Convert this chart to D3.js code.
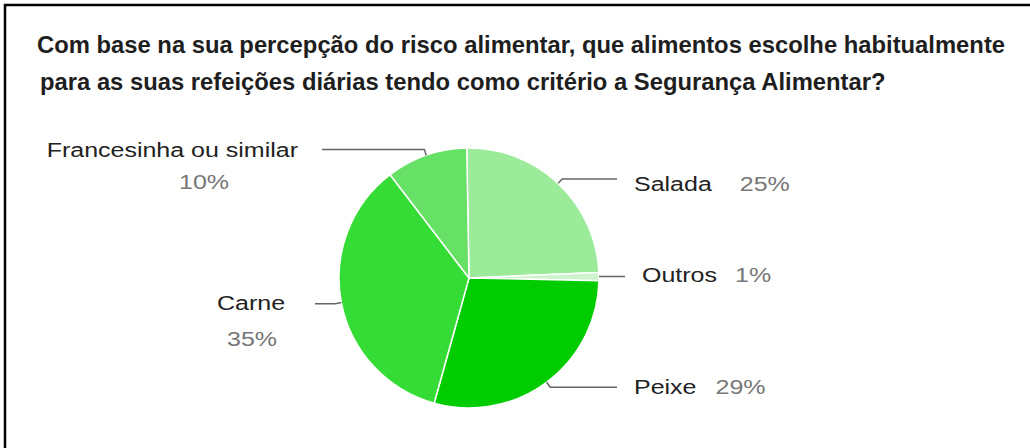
<!DOCTYPE html>
<html>
<head>
<meta charset="utf-8">
<script src="https://cdn.jsdelivr.net/npm/d3@7"></script>
<style>
  html, body { margin: 0; padding: 0; background: #fff; }
  svg { display: block; }
</style>
</head>
<body>
<svg id="chart" width="1030" height="448"></svg>
<script>
// ---- data ----
const titleLines = [
  "Com base na sua percepção do risco alimentar, que alimentos escolhe habitualmente",
  "para as suas refeições diárias tendo como critério a Segurança Alimentar?"
];
const categories = ["Salada", "Outros", "Peixe", "Carne", "Francesinha ou similar"];
const values = [24.6, 1.0, 29.0, 35.3, 10.1];
const colors = ["#9beb9b", "#cdf4cd", "#00cc00", "#35dc35", "#66e166"];

// ---- layout / style ----
const W = 1030, H = 448;
const cx = 469, cy = 278, R = 130;
const startOffset = -1 * Math.PI / 180;
const labelScaleX = 1.25;
const labelFont = "20px 'Liberation Sans', Arial, sans-serif";
const nameColor = "#222";
const pctColor = "#777";

// per-slice label layout (style): line end offset from centre, text placement
const labelLayout = [
  {side: "right", lineEnd: 148, nameDx: 17, nameDy: 12, pct: "inline", gap: 28},
  {side: "right", lineEnd: 156, nameDx: 17, nameDy: 6, pct: "inline", gap: 18},
  {side: "right", lineEnd: 148, nameDx: 17, nameDy: 7, pct: "inline", gap: 19},
  {side: "left",  lineEnd: -154, nameDx: -64, nameDy: 6, anchor: "middle", pct: "below", pctDx: -63, pctDy: 42},
  {side: "left",  lineEnd: -147, nameDx: -24, nameDy: 7, anchor: "end", pct: "below", pctDx: -118, pctDy: 39}
];

const svg = d3.select("#chart");

// frame (top and left border)
svg.append("path")
  .attr("d", `M5,${H} V5 H${W}`)
  .attr("fill", "none")
  .attr("stroke", "#000")
  .attr("stroke-width", 2.5);

// title
const title = svg.append("g")
  .attr("font-family", "'Liberation Sans', Arial, sans-serif")
  .attr("font-weight", "bold")
  .attr("font-size", "23.8px")
  .attr("fill", "#1e1e1e");
title.append("text").attr("x", 37).attr("y", 53).text(titleLines[0]);
title.append("text").attr("x", 40).attr("y", 90).text(titleLines[1]);

// pie
const total = d3.sum(values);
const pie = d3.pie().sort(null).value(d => d)
  .startAngle(startOffset).endAngle(startOffset + 2 * Math.PI);
const arcs = pie(values);
const arc = d3.arc().innerRadius(0).outerRadius(R);
const fmt = d3.format(".0%");

const g = svg.append("g").attr("transform", `translate(${cx},${cy})`);
g.selectAll("path.slice").data(arcs).enter().append("path")
  .attr("class", "slice")
  .attr("d", arc)
  .attr("fill", (d, i) => colors[i])
  .attr("stroke", "#fff")
  .attr("stroke-width", 1.5);

// leader lines and labels
arcs.forEach((d, i) => {
  const L = labelLayout[i];
  const mid = (d.startAngle + d.endAngle) / 2;
  const p0 = [R * Math.sin(mid), -R * Math.cos(mid)];
  const p1 = [(R + 6) * Math.sin(mid), -(R + 6) * Math.cos(mid)];
  const ly = p1[1];
  g.append("polyline")
    .attr("points", [p0, p1, [L.lineEnd, ly]].map(p => p.join(",")).join(" "))
    .attr("fill", "none")
    .attr("stroke", "#666")
    .attr("stroke-width", 1.5);

  const nx = L.lineEnd + L.nameDx, ny = ly + L.nameDy;
  const nameT = g.append("text")
    .attr("transform", `translate(${nx},${ny}) scale(${labelScaleX},1)`)
    .attr("text-anchor", L.anchor || "start")
    .style("font", labelFont)
    .attr("fill", nameColor)
    .text(categories[i]);
  const pctText = fmt(values[i] / total);
  if (L.pct === "inline") {
    const w = nameT.node().getComputedTextLength() * labelScaleX;
    g.append("text")
      .attr("transform", `translate(${nx + w + L.gap},${ny}) scale(${labelScaleX},1)`)
      .style("font", labelFont)
      .attr("fill", pctColor)
      .text(pctText);
  } else {
    g.append("text")
      .attr("transform", `translate(${L.lineEnd + L.pctDx},${ly + L.pctDy}) scale(${labelScaleX},1)`)
      .attr("text-anchor", "middle")
      .style("font", labelFont)
      .attr("fill", pctColor)
      .text(pctText);
  }
});
</script>
</body>
</html>
